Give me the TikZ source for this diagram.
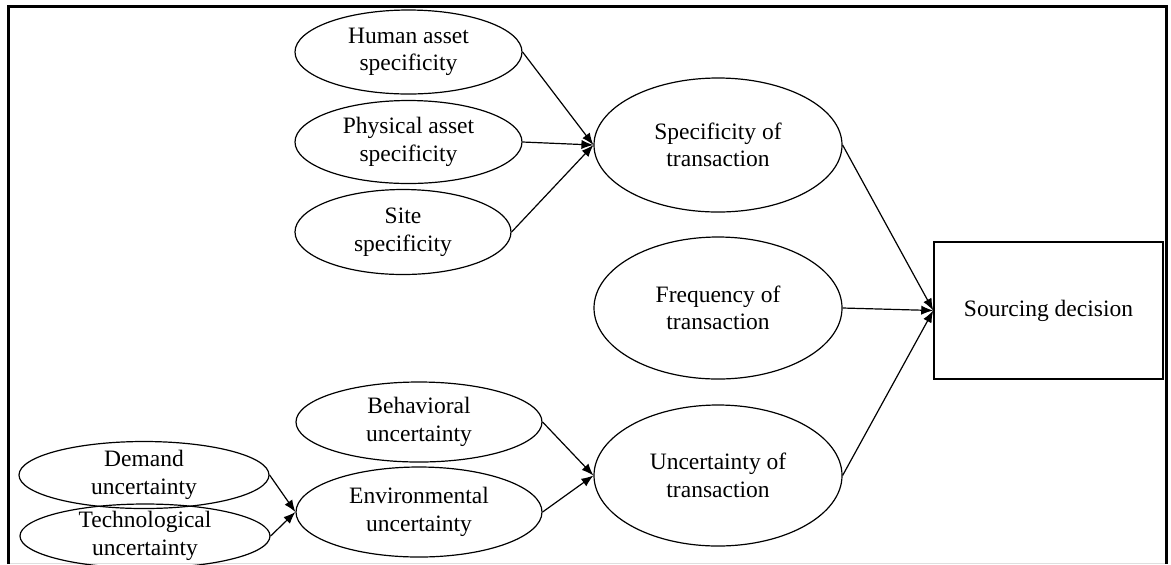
\documentclass[tikz,border=0pt]{standalone}
\usepackage{fontspec}
\setmainfont{Liberation Serif}
\usetikzlibrary{shapes.geometric, arrows.meta}
\begin{document}
\begin{tikzpicture}[x=0.5pt,y=-0.5pt,
  ell/.style={ellipse, draw, line width=0.6pt, inner sep=0pt},
  lbl/.style={align=center, font=\fontsize{11.75pt}{13.75pt}\selectfont, inner sep=0pt},
  arr/.style={-{Latex[length=6pt,width=4.6pt]}, line width=0.6pt},
  framestyle/.style={line width=1.5pt},
  boxstyle/.style={draw, line width=0.75pt, inner sep=0pt, font=\fontsize{11.75pt}{13.75pt}\selectfont}
]
\useasboundingbox (0,0) rectangle (1171,564);
\fill[white] (0,0) rectangle (1171,564);
\draw[gray!25, line width=0.5pt] (10,563) -- (1165,563);
\draw[framestyle] (8.5,564) -- (8.5,6) -- (1166.5,6) -- (1166.5,564);

% top group
\node[ell, minimum width=113.5pt, minimum height=42pt, label={[lbl]center:{Human asset\\specificity}}] (hum) at (408.5,52) {};
\node[ell, minimum width=113.5pt, minimum height=41.5pt, label={[lbl]center:{Physical asset\\specificity}}] (phy) at (408.5,142) {};
\node[ell, minimum width=108pt, minimum height=42.5pt, label={[lbl]center:{Site\\specificity}}] (sit) at (403,232) {};

% middle column
\node[ell, minimum width=124pt, minimum height=67pt, label={[lbl]center:{Specificity of\\transaction}}] (spec) at (718,145) {};
\node[ell, minimum width=124pt, minimum height=71pt, label={[lbl]center:{Frequency of\\transaction}}] (freq) at (718,308) {};
\node[ell, minimum width=124pt, minimum height=70.5pt, label={[lbl]center:{Uncertainty of\\transaction}}] (unc) at (718,475.5) {};

% bottom group
\node[ell, minimum width=123pt, minimum height=40pt, label={[lbl]center:{Behavioral\\uncertainty}}] (beh) at (419,422) {};
\node[ell, minimum width=123pt, minimum height=45pt, label={[lbl]center:{Environmental\\uncertainty}}] (env) at (419,512) {};
\node[ell, minimum width=125pt, minimum height=33.5pt, label={[lbl]center:{Demand\\uncertainty}}] (dem) at (144,475) {};
\node[ell, minimum width=125pt, minimum height=32pt, label={[lbl]center:{Technological\\uncertainty}}] (tec) at (145,536) {};

% outcome
\node[boxstyle, minimum width=114.5pt, minimum height=68.5pt] (src) at (1048.5,310.5) {Sourcing decision};

% connectors
\draw[arr] (hum.east) -- (spec.west);
\draw[arr] (phy.east) -- (spec.west);
\draw[arr] (sit.east) -- (spec.west);
\draw[arr] (spec.east) -- (src.west);
\draw[arr] (freq.east) -- (src.west);
\draw[arr] (unc.east) -- (src.west);
\draw[arr] (beh.east) -- (unc.west);
\draw[arr] (env.east) -- (unc.west);
\draw[arr] (dem.east) -- (env.west);
\draw[arr] (tec.east) -- (env.west);
\end{tikzpicture}
\end{document}
